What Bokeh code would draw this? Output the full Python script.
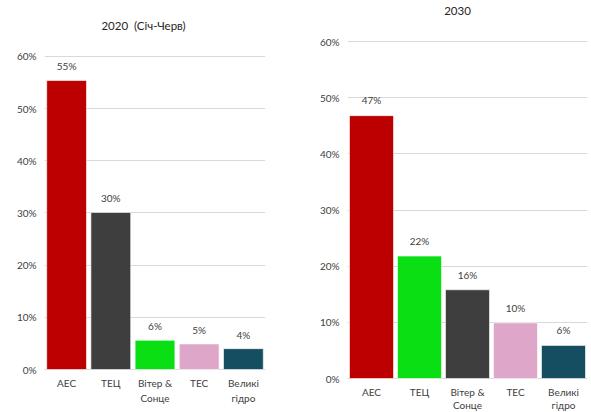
from bokeh.plotting import figure
from bokeh.layouts import row
from bokeh.models import FactorRange, Range1d, FixedTicker, PrintfTickFormatter, ColumnDataSource
from bokeh.core.properties import value
from bokeh.embed import file_html
from bokeh.resources import INLINE

# ---- data ----
categories = ["АЕС", "ТЕЦ", "Вітер &\nСонце", "ТЕС", "Великі\nгідро"]
share_2020 = [55.4, 30.1, 5.6, 4.9, 4.0]
share_2030 = [46.8, 21.8, 15.8, 9.9, 5.9]
labels_2020 = ["55%", "30%", "6%", "5%", "4%"]
labels_2030 = ["47%", "22%", "16%", "10%", "6%"]
y_ticks = [0, 10, 20, 30, 40, 50, 60]
title_2020 = "2020\u00a0 (Січ-Черв)"
title_2030 = "2030"

RED, GRAY, GREEN, PINK, TEAL = "#BC0000", "#3E3E3E", "#0ADF14", "#DEA6C8", "#164E61"
colors_2020 = [RED, GRAY, GREEN, PINK, TEAL]
colors_2030 = [RED, GREEN, GRAY, PINK, TEAL]

FONT = "Lato"
LABEL_GAP = 2.7  # data units between bar top and its value label


def make_chart(values, labels, colors, title, width, y_lo, y_hi, left, right, bar_width,
               title_dx, title_y, cat_y1, cat_y2):
    p = figure(width=width, height=412, x_range=FactorRange(factors=categories, range_padding=0),
               y_range=Range1d(y_lo, y_hi), output_backend="svg", toolbar_location=None, title=None,
               min_border_left=left, min_border_right=right, min_border_top=0, min_border_bottom=0)
    p.outline_line_color = None
    p.background_fill_color = "white"
    p.xgrid.visible = False
    p.xaxis.visible = False
    p.ygrid.grid_line_color = "#D9D9D9"
    p.ygrid.grid_line_width = 1

    src = ColumnDataSource(dict(cat=categories, val=values, lab=labels, col=colors,
                                ly=[v + LABEL_GAP for v in values]))
    p.vbar(x="cat", top="val", width=bar_width, bottom=0, fill_color="col",
           line_color="white", line_width=0.6, source=src)
    p.text(x="cat", y="ly", text="lab", source=src, text_align="center", text_baseline="middle",
           text_font=value(FONT), text_font_size="10px", text_color="#404040")
    p.text(x=[categories[2]], y=[title_y], text=[title], x_offset=title_dx,
           text_align="center", text_baseline="middle", text_font=value(FONT),
           text_font_size="11.5px", text_color="#262626")

    # category labels (two lines)
    line1 = [c.split("\n")[0] for c in categories]
    line2 = [c.split("\n")[1] if "\n" in c else "" for c in categories]
    p.text(x=categories, y=[cat_y1] * len(categories), text=line1, text_align="center",
           text_baseline="middle", text_font=value(FONT), text_font_size="10px",
           text_color="#404040")
    p.text(x=categories, y=[cat_y2] * len(categories), text=line2, text_align="center",
           text_baseline="middle", text_font=value(FONT), text_font_size="10px",
           text_color="#404040")

    p.yaxis.ticker = FixedTicker(ticks=y_ticks)
    p.yaxis.formatter = PrintfTickFormatter(format="%d%%")
    ax = p.yaxis[0]
    ax.axis_line_color = None
    ax.major_tick_line_color = None
    ax.minor_tick_line_color = None
    ax.major_tick_out = 0
    ax.major_tick_in = 0
    ax.minor_tick_out = 0
    ax.major_label_text_font = FONT
    ax.major_label_text_font_size = "10px"
    ax.major_label_text_color = "#404040"
    ax.major_label_standoff = 8
    return p


# left: zero line at y=369 px, 5.217 px per percent
p1 = make_chart(share_2020, labels_2020, colors_2020, title_2020, 290, -8.24, 70.73,
                44, 25, 0.9, -11.5, 65.9, -2.68, -5.37)
# right: zero line at y=378 px, 5.617 px per percent
p2 = make_chart(share_2030, labels_2030, colors_2030, title_2030, 301, -6.05, 67.3,
                57, 4, 0.917, -10, 65.5, -2.40, -4.72)

layout = row(p1, p2)
open("out.html", "w").write(file_html(layout, INLINE))
